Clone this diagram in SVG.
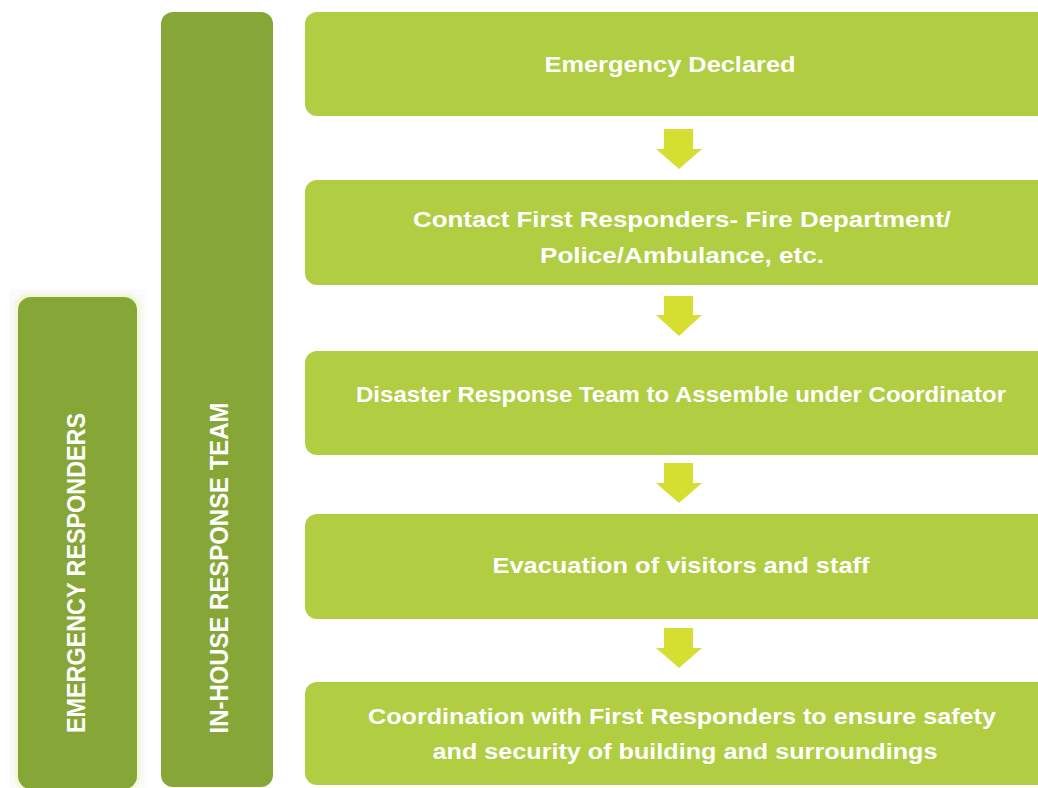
<svg xmlns="http://www.w3.org/2000/svg" width="1038" height="788" viewBox="0 0 1038 788">
<defs>
<style>
.box{fill:#b1cd42;}
.bar{fill:#86a738;}
.arrow{fill:#d5df32;}
.t{font-family:"Liberation Sans",Arial,sans-serif;font-weight:bold;font-size:22px;fill:#ffffff;text-anchor:middle;}
.v{font-family:"Liberation Sans",Arial,sans-serif;font-weight:bold;font-size:26px;fill:#ffffff;text-anchor:middle;}
</style>
<filter id="glow" x="-10%" y="-5%" width="120%" height="110%">
<feGaussianBlur stdDeviation="2.5"/>
</filter>
</defs>
<rect width="1038" height="788" fill="#ffffff"/>
<g id="emergency-responders">
<rect x="9" y="289" width="136" height="499" fill="#fbfbfd"/>
<rect x="15" y="294" width="125" height="496" rx="14" fill="#eef6c8" filter="url(#glow)"/>
<rect class="bar" x="18" y="297" width="119" height="492" rx="13"/>
<text class="v" transform="translate(85,573) rotate(-90)" textLength="320" lengthAdjust="spacingAndGlyphs">EMERGENCY RESPONDERS</text>
</g>
<g id="in-house-response-team">
<rect class="bar" x="161" y="12" width="112" height="775" rx="12"/>
<text class="v" transform="translate(228,568) rotate(-90)" textLength="331" lengthAdjust="spacingAndGlyphs">IN-HOUSE RESPONSE TEAM</text>
</g>
<g id="step1">
<rect class="box" x="305" y="12" width="760" height="104" rx="12"/>
<text class="t" x="670" y="72" textLength="251" lengthAdjust="spacingAndGlyphs">Emergency Declared</text>
</g>
<g id="step2">
<rect class="box" x="305" y="180" width="760" height="105" rx="12"/>
<text class="t" x="682" y="227" textLength="538" lengthAdjust="spacingAndGlyphs">Contact First Responders- Fire Department/</text>
<text class="t" x="682" y="263" textLength="284" lengthAdjust="spacingAndGlyphs">Police/Ambulance, etc.</text>
</g>
<g id="step3">
<rect class="box" x="305" y="351" width="760" height="104" rx="12"/>
<text class="t" x="681" y="402" textLength="650" lengthAdjust="spacingAndGlyphs">Disaster Response Team to Assemble under Coordinator</text>
</g>
<g id="step4">
<rect class="box" x="305" y="514" width="760" height="105" rx="12"/>
<text class="t" x="681" y="573" textLength="377" lengthAdjust="spacingAndGlyphs">Evacuation of visitors and staff</text>
</g>
<g id="step5">
<rect class="box" x="305" y="682" width="760" height="103" rx="12"/>
<text class="t" x="682" y="724" textLength="628" lengthAdjust="spacingAndGlyphs">Coordination with First Responders to ensure safety</text>
<text class="t" x="685" y="759" textLength="505" lengthAdjust="spacingAndGlyphs">and security of building and surroundings</text>
</g>
<g id="connectors">
<polygon class="arrow" points="664,129 693,129 693,149 702,149 679,169 656,149 664,149"/>
<polygon class="arrow" points="664,296 693,296 693,315 702,315 679,336 656,315 664,315"/>
<polygon class="arrow" points="664,463 693,463 693,483 702,483 679,503 656,483 664,483"/>
<polygon class="arrow" points="664,628 693,628 693,648 702,648 679,668 656,648 664,648"/>
</g>
</svg>
